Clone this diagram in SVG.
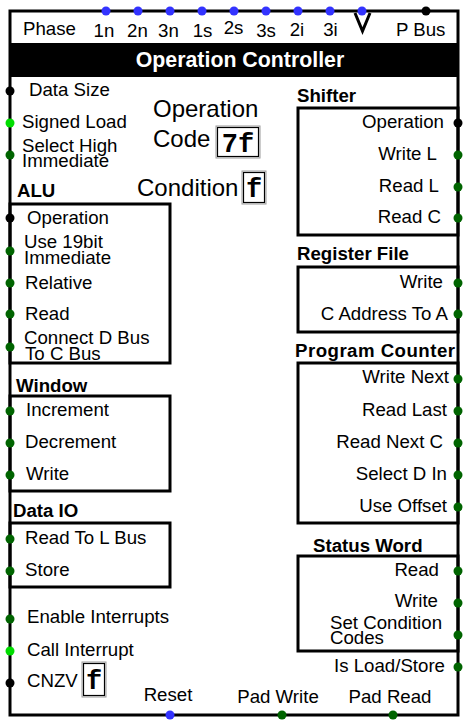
<svg xmlns="http://www.w3.org/2000/svg" width="470" height="727" viewBox="0 0 470 727">
<style>
text{font-family:"Liberation Sans",Arial,sans-serif;font-size:18.67px;fill:#000}
.b{font-weight:bold}
.e{text-anchor:end}
.m{text-anchor:middle}
.big{font-size:24px}
.mono{font-family:"Liberation Mono","Courier New",monospace;font-weight:bold;font-size:27px;text-anchor:middle}
.box{fill:none;stroke:#000;stroke-width:3}
.dk{fill:#006400}
.lt{fill:#00dd00}
.bk{fill:#000}
.bl{fill:#3333ff}
.disp{fill:#fff;stroke:#000;stroke-width:1.2}
.dispo{fill:none;stroke:#999;stroke-width:1}
</style>
<rect width="470" height="727" fill="#fff"/>
<g id="operation-controller">
<path class="box" d="M10,11 H458 V715 H10 Z"/>
<rect x="10" y="43" width="448" height="34" fill="#000"/>
<text class="b m" x="240" y="67" style="fill:#fff;font-size:21.33px">Operation Controller</text>
<text x="23" y="35">Phase</text>
<text class="m" x="104" y="37">1n</text>
<text class="m" x="137.5" y="37">2n</text>
<text class="m" x="168.5" y="37">3n</text>
<text class="m" x="202.5" y="37">1s</text>
<text class="m" x="233.5" y="34">2s</text>
<text class="m" x="266" y="37">3s</text>
<text class="m" x="297" y="36">2i</text>
<text class="m" x="330.5" y="36">3i</text>
<polyline points="355,13 362.5,31 370,13" fill="none" stroke="#000" stroke-width="3"/>
<text x="396" y="36">P Bus</text>
<text x="29" y="96">Data Size</text>
<text x="22" y="128">Signed Load</text>
<text x="22" y="152">Select High<tspan x="22" dy="14.5">Immediate</tspan></text>
<text x="27" y="623">Enable Interrupts</text>
<text x="27" y="656">Call Interrupt</text>
<text x="27" y="687">CNZV</text>
<text class="m" x="168" y="701">Reset</text>
<text class="m" x="278" y="703">Pad Write</text>
<text class="m" x="390" y="703">Pad Read</text>
<text class="e" x="445" y="672">Is Load/Store</text>
</g>
<g id="opcode-display">
<text class="big" x="153" y="117">Operation</text>
<text class="big" x="153" y="147">Code</text>
<rect class="dispo" x="216" y="126" width="44" height="32"/>
<rect class="disp" x="217.5" y="127.5" width="41" height="29"/>
<text class="mono" x="238" y="152">7f</text>
</g>
<g id="condition-display">
<text class="big" x="137" y="196">Condition</text>
<rect class="dispo" x="242" y="171" width="24" height="33"/>
<rect class="disp" x="243.5" y="172.5" width="21" height="30"/>
<text class="mono" x="254" y="197">f</text>
</g>
<g id="cnzv-display">
<rect class="dispo" x="82" y="662" width="24" height="35"/>
<rect class="disp" x="83.5" y="663.5" width="21" height="32"/>
<text class="mono" x="94" y="689">f</text>
</g>
<g id="alu">
<text class="b" x="17" y="197">ALU</text>
<rect class="box" x="10" y="204" width="160" height="159"/>
<text x="27" y="224">Operation</text>
<text x="24" y="248">Use 19bit<tspan x="24" dy="15.5">Immediate</tspan></text>
<text x="25" y="289">Relative</text>
<text x="25" y="320">Read</text>
<text x="24" y="344">Connect D Bus<tspan x="25" dy="15.5">To C Bus</tspan></text>
</g>
<g id="window">
<text class="b" x="16" y="392">Window</text>
<rect class="box" x="10" y="396" width="160" height="95"/>
<text x="26" y="416">Increment</text>
<text x="25" y="448">Decrement</text>
<text x="26" y="480">Write</text>
</g>
<g id="data-io">
<text class="b" x="13" y="517">Data IO</text>
<rect class="box" x="10" y="523" width="160" height="64"/>
<text x="25" y="544">Read To L Bus</text>
<text x="25" y="576">Store</text>
</g>
<g id="shifter">
<text class="b" x="297" y="102">Shifter</text>
<rect class="box" x="298" y="108" width="160" height="127"/>
<text class="e" x="444" y="128">Operation</text>
<text class="e" x="437" y="160">Write L</text>
<text class="e" x="439" y="192">Read L</text>
<text class="e" x="441" y="223">Read C</text>
</g>
<g id="register-file">
<text class="b" x="297" y="260">Register File</text>
<rect class="box" x="298" y="267" width="160" height="65"/>
<text class="e" x="443" y="288">Write</text>
<text class="e" x="448" y="320">C Address To A</text>
</g>
<g id="program-counter">
<text class="b" x="295" y="357" textLength="160">Program Counter</text>
<rect class="box" x="298" y="363" width="160" height="160"/>
<text class="e" x="449" y="383">Write Next</text>
<text class="e" x="447" y="416">Read Last</text>
<text class="e" x="443" y="448">Read Next C</text>
<text class="e" x="447" y="480">Select D In</text>
<text class="e" x="447" y="512">Use Offset</text>
</g>
<g id="status-word">
<text class="b" x="313" y="552">Status Word</text>
<rect class="box" x="298" y="556" width="160" height="95"/>
<text class="e" x="439" y="576">Read</text>
<text class="e" x="438" y="607">Write</text>
<text x="330" y="629">Set Condition<tspan x="330" dy="15">Codes</tspan></text>
</g>
<g id="connectors">
<g class="bl">
<circle cx="106" cy="11" r="4.5"/><circle cx="138" cy="11" r="4.5"/><circle cx="170" cy="11" r="4.5"/>
<circle cx="202" cy="11" r="4.5"/><circle cx="234" cy="11" r="4.5"/><circle cx="266" cy="11" r="4.5"/>
<circle cx="298" cy="11" r="4.5"/><circle cx="330" cy="11" r="4.5"/><circle cx="362" cy="11" r="4.5"/>
<circle cx="170" cy="715" r="4.5"/>
</g>
<g class="bk">
<circle cx="426" cy="11" r="4.5"/>
<circle cx="10" cy="91" r="4.5"/><circle cx="10" cy="218" r="4.5"/><circle cx="10" cy="683" r="4.5"/>
<circle cx="458" cy="123" r="4.5"/>
</g>
<g class="lt">
<circle cx="10" cy="123" r="4.5"/><circle cx="10" cy="651" r="4.5"/>
</g>
<g class="dk">
<circle cx="10" cy="155" r="4.5"/><circle cx="10" cy="251" r="4.5"/><circle cx="10" cy="283" r="4.5"/>
<circle cx="10" cy="314" r="4.5"/><circle cx="10" cy="347" r="4.5"/><circle cx="10" cy="411" r="4.5"/>
<circle cx="10" cy="443" r="4.5"/><circle cx="10" cy="475" r="4.5"/><circle cx="10" cy="539" r="4.5"/>
<circle cx="10" cy="571" r="4.5"/><circle cx="10" cy="619" r="4.5"/>
<circle cx="458" cy="155" r="4.5"/><circle cx="458" cy="187" r="4.5"/><circle cx="458" cy="218" r="4.5"/>
<circle cx="458" cy="283" r="4.5"/><circle cx="458" cy="314" r="4.5"/><circle cx="458" cy="379" r="4.5"/>
<circle cx="458" cy="411" r="4.5"/><circle cx="458" cy="443" r="4.5"/><circle cx="458" cy="475" r="4.5"/>
<circle cx="458" cy="507" r="4.5"/><circle cx="458" cy="571" r="4.5"/><circle cx="458" cy="603" r="4.5"/>
<circle cx="458" cy="635" r="4.5"/><circle cx="458" cy="667" r="4.5"/>
<circle cx="282" cy="715" r="4.5"/><circle cx="393" cy="715" r="4.5"/>
</g>
</g>
</svg>
